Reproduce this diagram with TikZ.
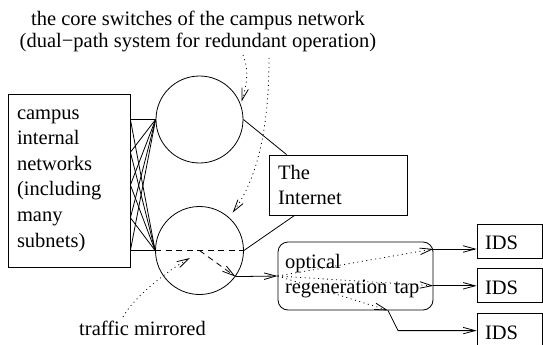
\documentclass[tikz,border=0pt]{standalone}
\usepackage{fontspec}
\setmainfont{Liberation Serif}
\usepackage{tikz}
\usetikzlibrary{positioning}
\usetikzlibrary{arrows.meta}
\tikzset{every node/.style={font=\fontsize{20.5}{25.6}\selectfont},
    box/.style={draw,align=left,inner xsep=9pt,inner ysep=0pt},
    switch/.style={draw,circle,inner sep=0pt},
    tapbox/.style={draw,rounded corners=10pt,align=left,inner xsep=7pt,inner ysep=0pt},
    ids/.style={draw,minimum width=65pt,minimum height=34pt,inner xsep=8pt,
        text width=49pt,align=left,text height=17pt,text depth=0pt},
    note/.style={dash pattern=on 1pt off 3.5pt},
    dashline/.style={dash pattern=on 6pt off 4.5pt},
    >={Straight Barb[length=12pt,width=6.5pt]}}

\begin{document}
\begin{tikzpicture}[x=1pt,y=-1pt,line width=0.8pt]
\useasboundingbox (0,0) rectangle (543,345);

\node[box,text width=104pt,minimum height=173pt] (campus) at (69,180.5)
    {campus\\internal\\networks\\(including\\many\\subnets)};
\node[switch,minimum size=87pt] (sw1) at (199.5,119.5) {};
\node[switch,minimum size=88pt] (sw2) at (199.5,250.5) {};
\node[box,text width=120pt,minimum height=60pt] (internet) at (338,185) {The\\Internet};
\node[tapbox,text width=141pt,minimum height=68pt] (tap) at (355.5,276)
    {optical\\regeneration tap};
\node[ids] (ids1) at (509.5,241) {IDS};
\node[ids,below=10pt of ids1] (ids2) {IDS};
\node[ids,below=10pt of ids2] (ids3) {IDS};

\node[align=center,inner sep=0pt,font=\fontsize{20.5}{22}\selectfont] (core) at (198,31.3)
    {the core switches of the campus network\\(dual−path system for redundant operation)};
\node[anchor=base] (mirr) at (142.5,335) {traffic mirrored};

% links between the campus and the two switches
\foreach \i/\y in {1/119.5,2/152.25,3/185,4/217.75,5/250.5}
    \coordinate (p\i) at (campus.east |- 0,\y);
\foreach \i in {1,...,5} {
    \draw (sw1.west) -- (p\i);
    \draw (sw2.west) -- (p\i);
}
\draw (sw1.east) -- ([xshift=18pt]internet.north west);
\draw (sw2.east) -- ([xshift=26pt]internet.south west);
\draw[dashline] (sw2.west) -- (sw2.east);
\draw[dashline,->] (sw2.center) -- (sw2.-36);
\draw[->] (sw2.-36) -- (tap.west);

% outputs of the tap
\coordinate (o1) at (tap.east |- 0,249);
\coordinate (o2) at (tap.east |- ids2.west);
\coordinate (o3) at (388,0 |- tap.south);
\coordinate (k3) at (398,0 |- ids3.west);
\draw[note,->] (tap.west) -- (o1);
\draw[note,->] (tap.west) -- (o2);
\draw[note,->] (tap.west) -- (o3);
\draw[->] (o1) -- (o1 -| ids1.west);
\draw[->] (o2) -- (ids2.west);
\draw[->] (o3) -- (k3) -- (ids3.west);

% annotations
\coordinate (c1) at (243,55);
\coordinate (c2) at (269,58);
\coordinate (m1) at (123,317);
\coordinate (m2) at (190,258);
\draw[note,->,shorten >=3pt] (c1) .. controls +(7,18) and +(5,-18) .. (sw1.20);
\draw[note,->,shorten >=6pt] (c2) .. controls +(0,80) and +(25,-35) .. (sw2.48);
\draw[note,->] (m1) .. controls +(12,-22) and +(-18,10) .. (m2);
\end{tikzpicture}
\end{document}
